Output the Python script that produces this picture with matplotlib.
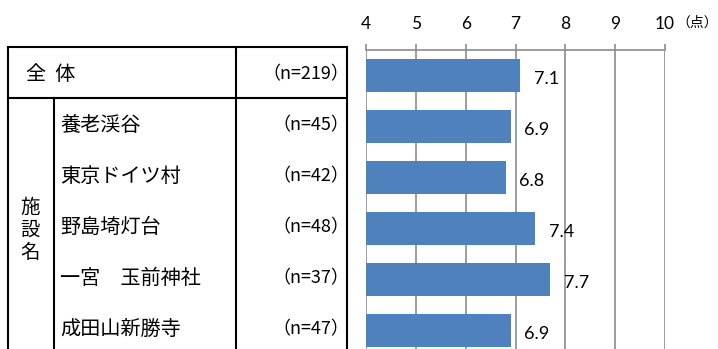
import matplotlib
matplotlib.use("Agg")
import matplotlib.pyplot as plt
from matplotlib.lines import Line2D

plt.rcParams['font.family'] = ['Noto Sans CJK JP', 'DejaVu Sans']

# ---- data ----
group_label = "施\n設\n名"
categories = ["全  体", "養老渓谷", "東京ドイツ村", "野島埼灯台", "一宮　玉前神社", "成田山新勝寺"]
n_labels = ["（n=219）", "（n=45）", "（n=42）", "（n=48）", "（n=37）", "（n=47）"]
values = [7.1, 6.9, 6.8, 7.4, 7.7, 6.9]
ticks = [4, 5, 6, 7, 8, 9, 10]
unit_label = "（点）"

W, H = 718, 349
fig = plt.figure(figsize=(W / 100, H / 100), dpi=100)

def fx(x):
    return x / W

def fy(y):
    return 1 - y / H

# bar axes: x 4..10 -> px 366..665, top at y=50, bottom at figure bottom
ax_left, ax_right, ax_top = 366, 665, 50
ax = fig.add_axes([fx(ax_left), 0, fx(ax_right - ax_left), 1 - ax_top / H])
pitch = 51.0
ax.set_xlim(ticks[0], ticks[-1])
ax.set_ylim(-0.5 + (H - ax_top) / pitch, -0.5)

ypos = list(range(len(values)))
ax.barh(ypos, [v - ticks[0] for v in values], left=ticks[0], height=33 / pitch,
        color="#4F81BD", zorder=3)

for y, v in zip(ypos, values):
    ax.annotate(f"{v:.1f}", xy=(v, y), xytext=(10, -2.5), textcoords="offset points",
                ha="left", va="center", fontsize=13, family=["Lato", "DejaVu Sans"],
                color="black", zorder=4)

ax.set_xticks(ticks)
ax.set_xticklabels([str(t) for t in ticks], family=["Lato", "DejaVu Sans"], fontsize=12.5)
ax.xaxis.tick_top()
ax.tick_params(axis="x", direction="out", length=4, width=1.2, color="#8c8c8c", pad=9)
ax.set_yticks([])
ax.grid(axis="x", color="#8c8c8c", linewidth=1.2)
ax.set_axisbelow(True)
for s in ["left", "right", "bottom"]:
    ax.spines[s].set_visible(False)
ax.spines["top"].set_color("#8c8c8c")
ax.spines["top"].set_linewidth(1.2)

fig.text(fx(718), fy(23), unit_label, ha="right", va="center", fontsize=10)

# ---- table ----
def line(x0, y0, x1, y1):
    fig.add_artist(Line2D([fx(x0), fx(x1)], [fy(y0), fy(y1)], color="black",
                          linewidth=1.5, transform=fig.transFigure))

line(8, 47, 347, 47)
line(8, 98, 347, 98)
line(8, 47, 8, H)
line(347, 47, 347, H)
line(236, 47, 236, H)
line(54, 98, 54, H)

row_y = [75.5 + pitch * i for i in range(len(categories))]
fig.text(fx(26), fy(row_y[0] - 1), categories[0], ha="left", va="center", fontsize=14.5)
for i in range(1, len(categories)):
    fig.text(fx(60), fy(row_y[i] - 1), categories[i], ha="left", va="center", fontsize=14.5)
for i in range(len(categories)):
    fig.text(fx(349), fy(row_y[i] - 1), n_labels[i], ha="right", va="center", fontsize=13)

fig.text(fx(30), fy(230), group_label, ha="center", va="center", fontsize=14,
         linespacing=1.1)

fig.savefig("out.png", dpi=100)
